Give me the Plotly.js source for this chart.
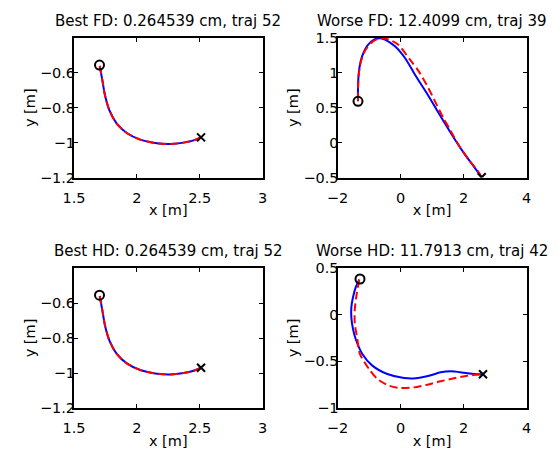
<!DOCTYPE html>
<html>
<head>
<meta charset="utf-8">
<script src="https://cdn.plot.ly/plotly-3.0.1.min.js"></script>
<style>html,body{margin:0;padding:0;background:#fff;}#chart{width:558px;height:451px;}</style>
</head>
<body>
<div id="chart"></div>
<script>
// ---- Data ----
const titles = [
  "Best FD: 0.264539 cm, traj 52",
  "Worse FD: 12.4099 cm, traj 39",
  "Best HD: 0.264539 cm, traj 52",
  "Worse HD: 11.7913 cm, traj 42"
];

// Best trajectory (traj 52) – actual (blue) and reference (red) coincide
const bestBlueX = [1.705, 1.726, 1.747, 1.782, 1.840, 1.920, 2.027, 2.160, 2.266, 2.372, 2.452, 2.511];
const bestBlueY = [-0.560, -0.644, -0.730, -0.815, -0.891, -0.945, -0.983, -1.004, -1.008, -1.000, -0.987, -0.970];
const bestRedX = [1.705, 1.726, 1.747, 1.782, 1.840, 1.920, 2.027, 2.160, 2.266, 2.372, 2.452, 2.511];
const bestRedY = [-0.560, -0.644, -0.730, -0.815, -0.891, -0.945, -0.983, -1.004, -1.008, -1.000, -0.987, -0.970];
const bestStartX = [1.703], bestStartY = [-0.555];
const bestEndX = [2.511], bestEndY = [-0.970];

// Worse FD (traj 39)
const fdBlueX = [-1.349, -1.349, -1.317, -1.212, -1.053, -0.841, -0.630, -0.492, -0.175, 0.143, 0.460, 0.831, 1.148, 1.466, 1.762, 2.048, 2.330, 2.577];
const fdBlueY = [0.592, 0.793, 1.032, 1.247, 1.390, 1.476, 1.497, 1.476, 1.381, 1.213, 0.974, 0.711, 0.472, 0.234, 0.019, -0.173, -0.345, -0.497];
const fdRedX = [-1.349, -1.345, -1.330, -1.265, -1.106, -0.894, -0.683, -0.524, -0.260, -0.069, 0.302, 0.580, 0.884, 1.095, 1.360, 1.571, 1.870, 2.170, 2.460, 2.577];
const fdRedY = [0.600, 0.800, 0.950, 1.150, 1.335, 1.445, 1.493, 1.497, 1.455, 1.404, 1.189, 1.022, 0.783, 0.592, 0.353, 0.186, -0.053, -0.245, -0.411, -0.497];
const fdStartX = [-1.349], fdStartY = [0.592];
const fdEndX = [2.577], fdEndY = [-0.497];

// Worse HD (traj 42)
const hdBlueX = [-1.31, -1.423, -1.508, -1.561, -1.561, -1.508, -1.423, -1.212, -0.894, -0.418, 0.111, 0.481, 0.905, 1.275, 1.593, 2.016, 2.333, 2.619];
const hdBlueY = [0.375, 0.293, 0.186, 0.078, -0.029, -0.154, -0.261, -0.421, -0.546, -0.636, -0.679, -0.682, -0.654, -0.618, -0.607, -0.622, -0.636, -0.639];
const hdRedX = [-1.31, -1.392, -1.455, -1.450, -1.370, -1.290, -1.000, -0.735, -0.365, 0.005, 0.429, 0.852, 1.275, 1.698, 2.122, 2.619];
const hdRedY = [0.375, 0.221, 0.043, -0.100, -0.261, -0.421, -0.582, -0.689, -0.761, -0.786, -0.779, -0.750, -0.714, -0.682, -0.654, -0.639];
const hdStartX = [-1.286], hdStartY = [0.382];
const hdEndX = [2.619], hdEndY = [-0.639];

// Tick values / labels
const xTicksBest = [1.5, 2, 2.5, 3];
const xTextBest = ["1.5", "2", "2.5", "3"];
const yTicksBest = [-1.2, -1, -0.8, -0.6];
const yTextBest = ["\u22121.2", "\u22121", "\u22120.8", "\u22120.6"];
const xTicksWorse = [-2, 0, 2, 4];
const xTextWorse = ["\u22122", "0", "2", "4"];
const yTicksFD = [-0.5, 0, 0.5, 1, 1.5];
const yTextFD = ["\u22120.5", "0", "0.5", "1", "1.5"];
const yTicksHD = [-1, -0.5, 0, 0.5];
const yTextHD = ["\u22121", "\u22120.5", "0", "0.5"];

// ---- Traces ----
function panel(bx, by, rx, ry, sx, sy, ex, ey, k) {
  const xa = k === 1 ? 'x' : 'x' + k, ya = k === 1 ? 'y' : 'y' + k;
  return [
    {x: bx, y: by, xaxis: xa, yaxis: ya, type: 'scatter', mode: 'lines',
     line: {color: '#0000ff', width: 2, shape: 'spline', smoothing: 0.7}, hoverinfo: 'skip'},
    {x: rx, y: ry, xaxis: xa, yaxis: ya, type: 'scatter', mode: 'lines',
     line: {color: '#ff0000', width: 2, dash: '8px,4px', shape: 'spline', smoothing: 0.7}, hoverinfo: 'skip'},
    {x: sx, y: sy, xaxis: xa, yaxis: ya, type: 'scatter', mode: 'markers',
     marker: {symbol: 'circle-open', size: 9, color: '#000', line: {width: 2, color: '#000'}}, hoverinfo: 'skip'},
    {x: ex, y: ey, xaxis: xa, yaxis: ya, type: 'scatter', mode: 'markers',
     marker: {symbol: 'x-thin-open', size: 8, color: '#000', line: {width: 2, color: '#000'}}, hoverinfo: 'skip'}
  ];
}
const data = [].concat(
  panel(bestBlueX, bestBlueY, bestRedX, bestRedY, bestStartX, bestStartY, bestEndX, bestEndY, 1),
  panel(fdBlueX, fdBlueY, fdRedX, fdRedY, fdStartX, fdStartY, fdEndX, fdEndY, 2),
  panel(bestBlueX, bestBlueY, bestRedX, bestRedY, bestStartX, bestStartY, bestEndX, bestEndY, 3),
  panel(hdBlueX, hdBlueY, hdRedX, hdRedY, hdStartX, hdStartY, hdEndX, hdEndY, 4)
);

// ---- Layout ----
const FONT = 'DejaVu Sans, Arial, sans-serif';
function ax(domain, range, tv, tt, title, anchor, isY) {
  return {
    domain: domain, range: range, anchor: anchor,
    tickmode: 'array', tickvals: tv, ticktext: tt,
    ticks: 'inside', ticklen: 4, tickwidth: 1, tickcolor: '#000',
    showline: true, linecolor: '#000', linewidth: 2, mirror: 'ticks',
    showgrid: false, zeroline: false, fixedrange: true,
    ticklabelstandoff: isY ? -6 : 6,
    tickfont: {family: FONT, size: 14.5, color: '#000'},
    title: {text: title, font: {family: FONT, size: 14.5, color: '#000'}, standoff: isY ? 1 : 0},
    automargin: false
  };
}
const dxL = [74 / 558, 262.5 / 558], dxR = [337.5 / 558, 526.5 / 558];
const dyT = [(451 - 177.5) / 451, (451 - 38) / 451], dyB = [(451 - 408) / 451, (451 - 268) / 451];

const layout = {
  width: 558, height: 451,
  margin: {l: 0, r: 0, t: 0, b: 0},
  paper_bgcolor: '#fff', plot_bgcolor: '#fff',
  showlegend: false,
  font: {family: FONT, color: '#000'},
  xaxis: ax(dxL, [1.5, 3], xTicksBest, xTextBest, 'x [m]', 'y', false),
  yaxis: ax(dyT, [-1.2, -0.4], yTicksBest, yTextBest, 'y [m]', 'x', true),
  xaxis2: ax(dxR, [-2, 4], xTicksWorse, xTextWorse, 'x [m]', 'y2', false),
  yaxis2: ax(dyT, [-0.5, 1.5], yTicksFD, yTextFD, 'y [m]', 'x2', true),
  xaxis3: ax(dxL, [1.5, 3], xTicksBest, xTextBest, 'x [m]', 'y3', false),
  yaxis3: ax(dyB, [-1.2, -0.4], yTicksBest, yTextBest, 'y [m]', 'x3', true),
  xaxis4: ax(dxR, [-2, 4], xTicksWorse, xTextWorse, 'x [m]', 'y4', false),
  yaxis4: ax(dyB, [-1, 0.5], yTicksHD, yTextHD, 'y [m]', 'x4', true),
  annotations: titles.map((t, i) => ({
    text: t, showarrow: false,
    xref: (i === 0 ? 'x' : 'x' + (i + 1)) + ' domain',
    yref: (i === 0 ? 'y' : 'y' + (i + 1)) + ' domain',
    x: 0.5, y: 1, xanchor: 'center', yanchor: 'bottom', yshift: 6,
    font: {family: FONT, size: 15, color: '#000'}
  }))
};

Plotly.newPlot('chart', data, layout, {staticPlot: true, displayModeBar: false});
</script>
</body>
</html>
